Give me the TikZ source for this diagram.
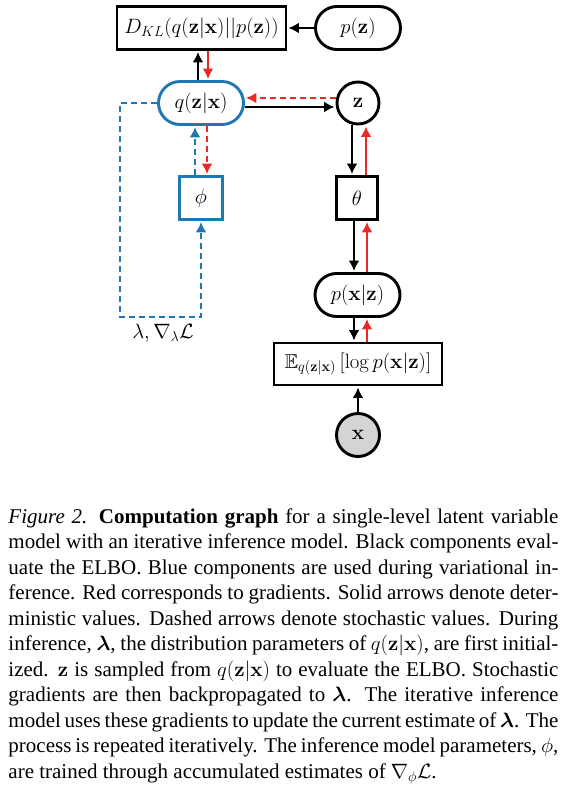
\documentclass[tikz,border=0pt]{standalone}
\usepackage{amsmath, amssymb}
\usepackage[no-math]{fontspec}
\setmainfont{Liberation Serif}
\usetikzlibrary{positioning}
\usetikzlibrary{arrows.meta}

\definecolor{infblue}{RGB}{31,119,180}
\definecolor{gradred}{RGB}{235,40,40}

\begin{document}
\begin{tikzpicture}[x=1pt,y=-1pt,->,>={Latex[length=10.5pt,width=11pt]},shorten >=1pt,line width=2.9pt,
                box node/.style={rectangle,draw,minimum height=43pt,inner xsep=5pt,font=\fontsize{20}{24}\selectfont},
                pill node/.style={rectangle,draw,rounded corners=21.5pt,minimum width=85pt,minimum height=43pt,font=\fontsize{20}{24}\selectfont},
                var node/.style={circle,draw,minimum size=42pt,inner sep=0pt,font=\fontsize{20}{24}\selectfont},
                grad/.style={gradred},
                stoch/.style={dash pattern=on 6pt off 4pt}]

  \useasboundingbox (0,0) rectangle (564,792);

  \node[box node,minimum width=169pt] (kl) at (201.5,28) {$D_{KL}(q(\mathbf{z}|\mathbf{x})||p(\mathbf{z}))$};
  \node[pill node] (pz) at (358,28) {$p(\mathbf{z})$};
  \node[pill node,draw=infblue] (q) at (201,103) {$q(\mathbf{z}|\mathbf{x})$};
  \node[var node] (z) at (358,103) {$\mathbf{z}$};
  \node[box node,draw=infblue,minimum width=43pt] (phi) at (201,198) {$\phi$};
  \node[box node,minimum width=41pt] (theta) at (357,198) {$\theta$};
  \node[pill node] (px) at (357.5,295) {$p(\mathbf{x}|\mathbf{z})$};
  \node[box node,minimum width=168pt,minimum height=42pt] (elbo) at (358,364) {$\mathbb{E}_{q(\mathbf{z}|\mathbf{x})}\left[\log p(\mathbf{x}|\mathbf{z})\right]$};
  \node[var node,minimum size=43pt,fill=black!17] (x) at (358,435) {$\mathbf{x}$};
  \coordinate (turn) at (120,317);
  \node[font=\fontsize{20}{24}\selectfont] (lam) at (163,333) {$\lambda, \nabla_\lambda \mathcal{L}$};

  % generative side
  \path
    (pz) edge (kl)
    (x)  edge (elbo);
  \draw ([xshift=-3]q.north) -- ([xshift=-3.5]kl.south);
  \draw ([yshift=-4]q.east) -- ([yshift=-4]z.west);
  \draw ([xshift=-6]z.south) -- ([xshift=-5]theta.north);
  \draw ([xshift=-3]theta.south) -- ([xshift=-3.5]px.north);
  \draw ([xshift=-3.5]px.south) -- ([xshift=-4]elbo.north);

  % gradients
  \draw[grad] ([xshift=6.5]kl.south) -- ([xshift=7]q.north);
  \draw[grad,stoch] ([yshift=5]z.west) -- ([yshift=5]q.east);
  \draw[grad,stoch] ([xshift=6]q.south) -- ([xshift=6]phi.north);
  \draw[grad] ([xshift=9]theta.north) -- ([xshift=8]z.south);
  \draw[grad] ([xshift=9.5]px.north) -- ([xshift=10]theta.south);
  \draw[grad] ([xshift=9]elbo.north) -- ([xshift=9.5]px.south);

  % inference loop
  \draw[infblue,stoch] ([xshift=-6]phi.north) -- ([xshift=-6]q.south);
  \draw[infblue,stoch] (q.west) -| (turn) -| (phi.south);

  \node[anchor=north west,inner sep=0pt,text width=550pt,align=justify,
        font=\fontsize{21}{25.5}\selectfont] (caption) at (7,507)
    {\textit{Figure 2.} \textbf{Computation graph} for a single-level latent variable\linebreak
     model with an iterative inference model. Black components eval-\linebreak
     uate the ELBO. Blue components are used during variational in-\linebreak
     ference. Red corresponds to gradients. Solid arrows denote deter-\linebreak
     ministic values. Dashed arrows denote stochastic values. During\linebreak
     inference, $\boldsymbol{\lambda}$, the distribution parameters of $q(\mathbf{z}|\mathbf{x})$, are first initial-\linebreak
     ized. $\mathbf{z}$ is sampled from $q(\mathbf{z}|\mathbf{x})$ to evaluate the ELBO. Stochastic\linebreak
     gradients are then backpropagated to $\boldsymbol{\lambda}$. The iterative inference\linebreak
     model uses these gradients to update the current estimate of $\boldsymbol{\lambda}$. The\linebreak
     process is repeated iteratively. The inference model parameters, $\phi$,\linebreak
     are trained through accumulated estimates of $\nabla_\phi\mathcal{L}$.};
\end{tikzpicture}
\end{document}
